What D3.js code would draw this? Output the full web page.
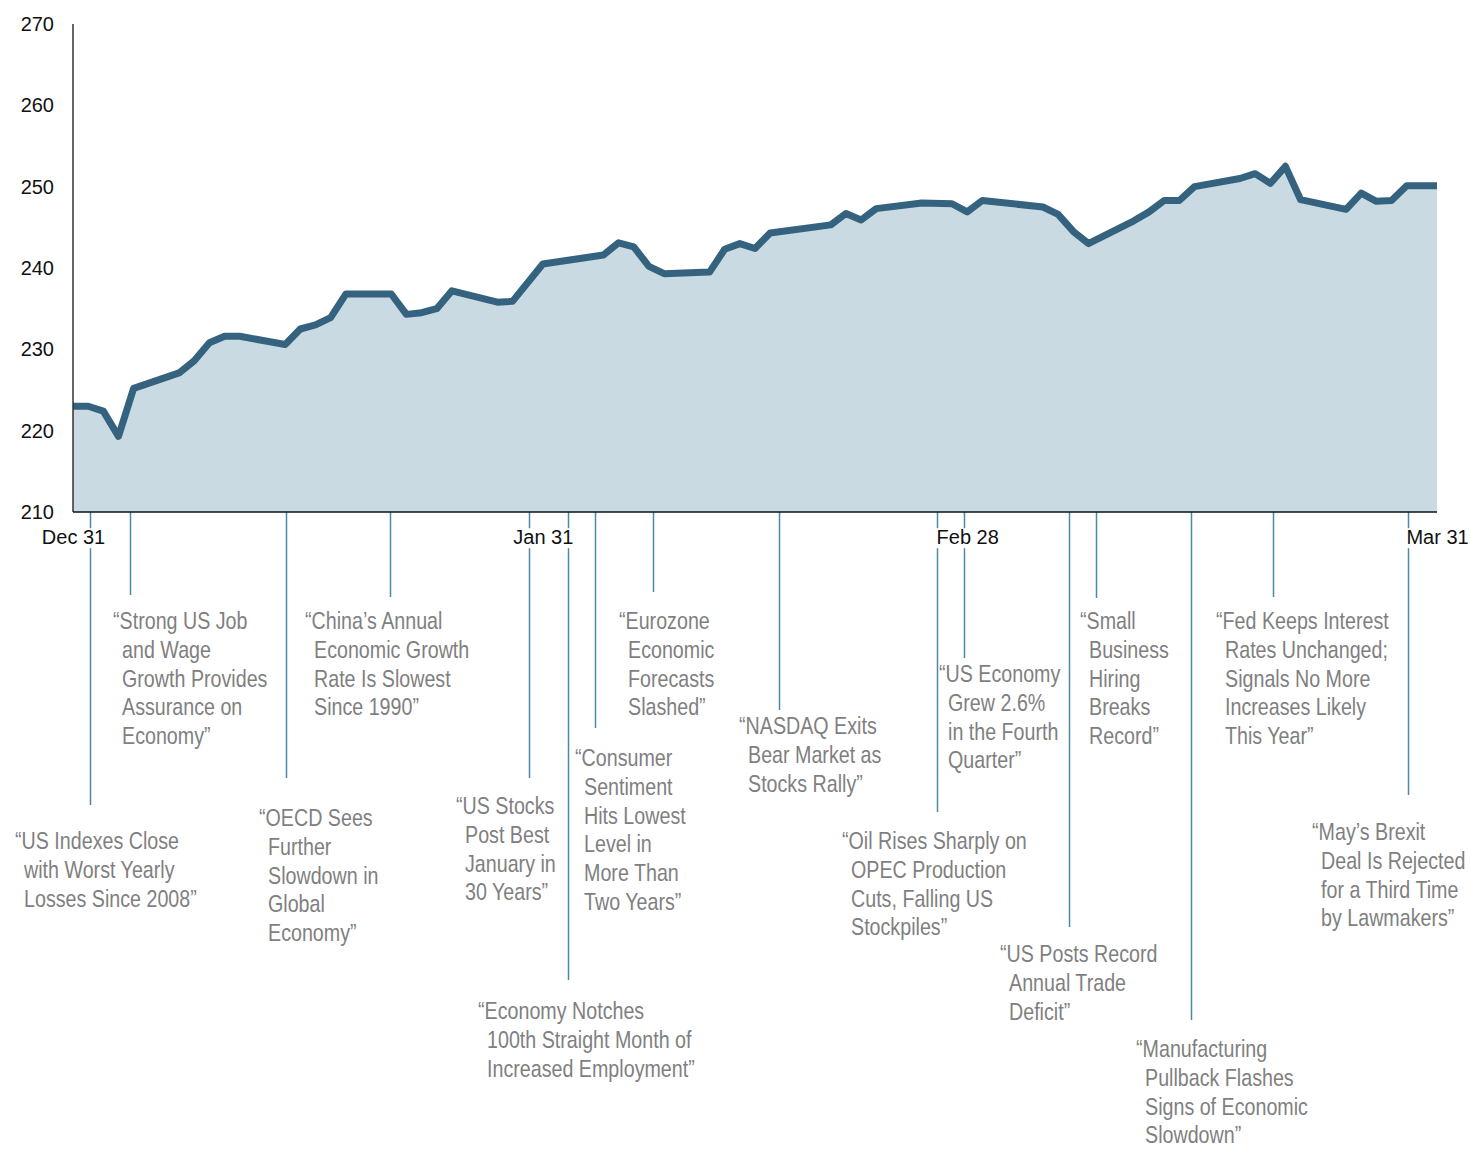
<!DOCTYPE html>
<html>
<head>
<meta charset="utf-8">
<script src="https://cdn.jsdelivr.net/npm/d3@7"></script>
<style>
  body { margin: 0; background: #fff; }
  svg { display: block; }
</style>
</head>
<body>
<svg id="chart" width="1470" height="1149"></svg>
<script>
// daily closing values (holidays carry the prior close)
const dates = [
  "2018-12-31", "2019-01-01", "2019-01-02", "2019-01-03", "2019-01-04", "2019-01-07",
  "2019-01-08", "2019-01-09", "2019-01-10", "2019-01-11", "2019-01-14", "2019-01-15",
  "2019-01-16", "2019-01-17", "2019-01-18", "2019-01-21", "2019-01-22", "2019-01-23",
  "2019-01-24", "2019-01-25", "2019-01-28", "2019-01-29", "2019-01-31", "2019-02-04",
  "2019-02-05", "2019-02-06", "2019-02-07", "2019-02-08", "2019-02-11", "2019-02-12",
  "2019-02-13", "2019-02-14", "2019-02-15", "2019-02-19", "2019-02-20", "2019-02-21",
  "2019-02-22", "2019-02-25", "2019-02-27", "2019-02-28", "2019-03-01", "2019-03-05",
  "2019-03-06", "2019-03-07", "2019-03-08", "2019-03-11", "2019-03-12", "2019-03-13",
  "2019-03-14", "2019-03-15", "2019-03-18", "2019-03-19", "2019-03-20", "2019-03-21",
  "2019-03-22", "2019-03-25", "2019-03-26", "2019-03-27", "2019-03-28", "2019-03-29",
  "2019-03-31"
];
const values = [
  223.0, 223.0, 222.4, 219.3, 225.2, 227.1,
  228.6, 230.8, 231.6, 231.6, 230.6, 232.5,
  233.0, 233.9, 236.8, 236.8, 234.3, 234.5,
  235.0, 237.2, 235.8, 235.9, 240.5, 241.6,
  243.1, 242.6, 240.2, 239.3, 239.5, 242.3,
  243.0, 242.4, 244.3, 245.3, 246.7, 245.9,
  247.3, 248.0, 247.9, 246.9, 248.3, 247.5,
  246.6, 244.5, 243.0, 245.8, 246.9, 248.3,
  248.3, 250.0, 251.0, 251.6, 250.4, 252.5,
  248.4, 247.2, 249.2, 248.2, 248.3, 250.1,
  250.1
];

// axis labels
const yTicks = [210, 220, 230, 240, 250, 260, 270];
const xTicks = ["2018-12-31", "2019-01-31", "2019-02-28", "2019-03-31"];

// headlines and when they ran
const noteDates = [
  "2019-01-01T03:00", "2019-01-03T18:00", "2019-01-14T02:00", "2019-01-20T22:00",
  "2019-01-30T02:00", "2019-02-01T16:00", "2019-02-03T10:00", "2019-02-07T07:00",
  "2019-02-15T14:00", "2019-02-26T00:00", "2019-02-27T19:00", "2019-03-06T17:00",
  "2019-03-08T12:00", "2019-03-14T19:00", "2019-03-20T05:00", "2019-03-29T02:00"
];
const noteTexts = [
  ["“US Indexes Close", "with Worst Yearly", "Losses Since 2008”"],
  ["“Strong US Job", "and Wage", "Growth Provides", "Assurance on", "Economy”"],
  ["“OECD Sees", "Further", "Slowdown in", "Global", "Economy”"],
  ["“China’s Annual", "Economic Growth", "Rate Is Slowest", "Since 1990”"],
  ["“US Stocks", "Post Best", "January in", "30 Years”"],
  ["“Economy Notches", "100th Straight Month of", "Increased Employment”"],
  ["“Consumer", "Sentiment", "Hits Lowest", "Level in", "More Than", "Two Years”"],
  ["“Eurozone", "Economic", "Forecasts", "Slashed”"],
  ["“NASDAQ Exits", "Bear Market as", "Stocks Rally”"],
  ["“Oil Rises Sharply on", "OPEC Production", "Cuts, Falling US", "Stockpiles”"],
  ["“US Economy", "Grew 2.6%", "in the Fourth", "Quarter”"],
  ["“US Posts Record", "Annual Trade", "Deficit”"],
  ["“Small", "Business", "Hiring", "Breaks", "Record”"],
  ["“Manufacturing", "Pullback Flashes", "Signs of Economic", "Slowdown”"],
  ["“Fed Keeps Interest", "Rates Unchanged;", "Signals No More", "Increases Likely", "This Year”"],
  ["“May’s Brexit", "Deal Is Rejected", "for a Third Time", "by Lawmakers”"]
];

// where each headline sits: [leader end y, text left x, first baseline y]
const noteLayout = [
  [805, 15, 849], [595, 113, 629], [778, 259, 826], [597, 305, 629],
  [778, 456, 814], [980, 478, 1019], [728, 575, 766], [592, 619, 629],
  [710, 739, 734], [812, 842, 849], [658, 939, 682], [927, 1000, 962],
  [598, 1080, 629], [1020, 1136, 1057], [597, 1216, 629], [795, 1312, 840]
];

const parseDay = d3.utcParse("%Y-%m-%d");
const parseTime = d3.utcParse("%Y-%m-%dT%H:%M");

const series = dates.map((d, i) => ({ date: parseDay(d), value: values[i] }));

const svg = d3.select("#chart");
const plotLeft = 73, plotRight = 1437, plotTop = 24, plotBottom = 512;

const x = d3.scaleUtc()
  .domain([parseDay("2018-12-31"), parseDay("2019-03-31")])
  .range([plotLeft, plotRight]);

const y = d3.scaleLinear()
  .domain([210, 270])
  .range([plotBottom, plotTop]);

// area under the line
svg.append("path")
  .datum(series)
  .attr("fill", "#c9dae3")
  .attr("d", d3.area()
    .x(d => x(d.date))
    .y0(y(210))
    .y1(d => y(d.value)));

svg.append("path")
  .datum(series)
  .attr("fill", "none")
  .attr("stroke", "#35637f")
  .attr("stroke-width", 7)
  .attr("stroke-linejoin", "round")
  .attr("d", d3.line()
    .x(d => x(d.date))
    .y(d => y(d.value)));

// leader lines from the axis down to each headline
svg.append("g").selectAll("line")
  .data(noteDates)
  .join("line")
  .attr("x1", d => Math.round(x(parseTime(d))) + 0.5)
  .attr("x2", d => Math.round(x(parseTime(d))) + 0.5)
  .attr("y1", plotBottom)
  .attr("y2", (d, i) => noteLayout[i][0])
  .attr("stroke", "#4d87aa")
  .attr("stroke-width", 1.5);

// headline text, narrowed Liberation Sans to mimic a condensed face
const notes = svg.append("g").selectAll("g")
  .data(noteTexts)
  .join("g")
  .attr("transform", (d, i) => `translate(${noteLayout[i][1]},${noteLayout[i][2]}) scale(0.82,1)`);

notes.append("text")
  .attr("font-family", "'Liberation Sans', Arial, sans-serif")
  .attr("font-size", 24)
  .attr("fill", "#7f7f7f")
  .selectAll("tspan")
  .data(d => d)
  .join("tspan")
  .attr("x", (d, i) => i === 0 ? 0 : 11)
  .attr("y", (d, i) => i * 28.8)
  .text(d => d);

// y axis
const yAxis = svg.append("g")
  .attr("transform", `translate(${plotLeft},0)`)
  .call(d3.axisLeft(y).tickValues(yTicks).tickSize(0).tickPadding(19));
yAxis.select(".domain").remove();
yAxis.selectAll("text")
  .attr("font-family", "'Liberation Sans', Arial, sans-serif")
  .attr("font-size", 20)
  .attr("fill", "#111");

svg.append("line")
  .attr("x1", plotLeft).attr("x2", plotLeft)
  .attr("y1", plotTop).attr("y2", plotBottom)
  .attr("stroke", "#333")
  .attr("stroke-width", 1.5);

// x axis baseline and month-end labels
svg.append("line")
  .attr("x1", plotLeft).attr("x2", plotRight)
  .attr("y1", plotBottom).attr("y2", plotBottom)
  .attr("stroke", "#111")
  .attr("stroke-width", 1.5);

const xAxis = svg.append("g")
  .attr("transform", `translate(0,${plotBottom})`)
  .call(d3.axisBottom(x)
    .tickValues(xTicks.map(parseDay))
    .tickFormat(d3.utcFormat("%b %d"))
    .tickSize(0)
    .tickPadding(18));
xAxis.select(".domain").remove();
xAxis.selectAll("text")
  .attr("font-family", "'Liberation Sans', Arial, sans-serif")
  .attr("font-size", 20)
  .attr("fill", "#111");

// white box behind each label so leader lines break around it
xAxis.selectAll(".tick").each(function () {
  const t = d3.select(this).select("text");
  const b = t.node().getBBox();
  d3.select(this).insert("rect", "text")
    .attr("x", b.x - 2)
    .attr("y", b.y + 2)
    .attr("width", b.width + 4)
    .attr("height", b.height - 2)
    .attr("fill", "#fff");
});
</script>
</body>
</html>
